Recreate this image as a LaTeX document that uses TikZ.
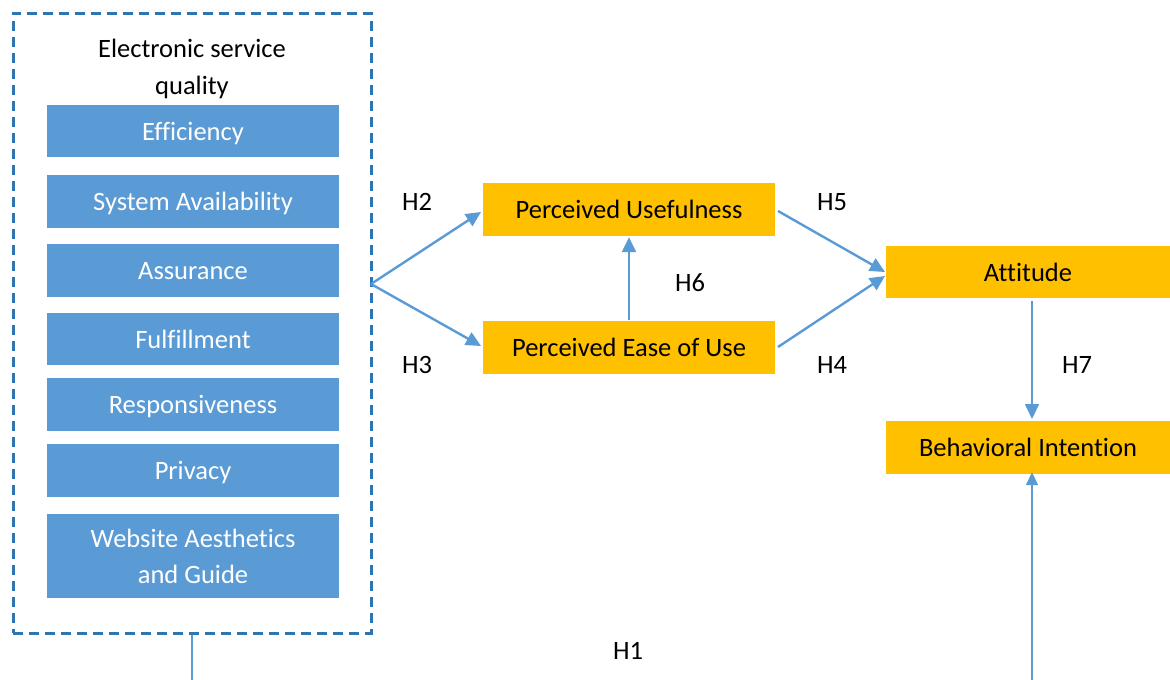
\documentclass[tikz,border=0pt]{standalone}
\usepackage{fontspec}
\setmainfont{Carlito}[Ligatures=NoCommon]
\usetikzlibrary{arrows.meta}
\definecolor{dimblue}{HTML}{5B9BD5}
\definecolor{frameblue}{HTML}{2E75B6}
\definecolor{amber}{HTML}{FFC000}
\tikzset{
  dim/.style={rectangle, fill=dimblue, text=white, minimum width=292pt,
    inner sep=0pt, font=\fontsize{26.5}{36}\selectfont, align=center},
  factor/.style={rectangle, fill=amber, text=black, inner sep=0pt,
    text depth=0pt, font=\fontsize{26.5}{30}\selectfont},
  link/.style={draw=dimblue, line width=2.4pt,
    -{Triangle[length=15pt,width=14pt]}},
  thinlink/.style={draw=dimblue, line width=1.6pt},
  hyp/.style={font=\fontsize{26.5}{30}\selectfont, inner sep=0pt},
  frame/.style={draw=frameblue, line width=3pt,
    dash pattern=on 10pt off 6pt, inner sep=0pt}
}
\begin{document}
\begin{tikzpicture}[x=1pt,y=-1pt]
\useasboundingbox (0,0) rectangle (1170,680);

% dashed frame around the service-quality dimensions
\node[frame, minimum width=358pt, minimum height=620pt] (eq) at (192,323) {};
\node[hyp, align=center, font=\fontsize{26.5}{37}\selectfont] (eqtitle) at (192,69)
  {Electronic service\\quality};

% dimensions
\node[dim, text depth=0pt, minimum height=52pt] (eff)  at (193,131) {Efficiency};
\node[dim, text depth=0pt, minimum height=53pt] (sys)  at (193,201.5) {System Availability};
\node[dim, text depth=0pt, minimum height=53pt] (ass)  at (193,270.5) {Assurance};
\node[dim, text depth=0pt, minimum height=52pt] (ful)  at (193,339) {Fulfillment};
\node[dim, text depth=0pt, minimum height=53pt] (res)  at (193,404.5) {Responsiveness};
\node[dim, text depth=0pt, minimum height=53pt] (pri)  at (193,470.5) {Privacy};
\node[dim, minimum height=84pt] (web)  at (193,556) {Website Aesthetics\\and Guide};

% constructs
\node[factor, minimum width=292pt, minimum height=53pt] (pu)   at (629,209.5) {Perceived Usefulness};
\node[factor, minimum width=292pt, minimum height=53pt] (peou) at (629,347.5) {Perceived Ease of Use};
\node[factor, minimum width=284pt, minimum height=52pt] (att)  at (1028,272) {Attitude};
\node[factor, minimum width=284pt, minimum height=53pt] (bi)   at (1028,447.5) {Behavioral Intention};

% paths
\coordinate (fork) at (371,284);
\draw[link] (fork) -- (481,212);
\draw[link] (fork) -- (481,346);
\draw[link] (peou.north) ++(0,-1) -- ([yshift=-1pt]pu.south);
\draw[link] (778,211) -- (885,272);
\draw[link] (778,347) -- (885,276);
\draw[link, line width=1.8pt] (1032,301) -- (1032,419);

% H1 connector leaving the picture at the bottom
\coordinate (h1a) at (192,680);
\coordinate (h1b) at (1032,680);
\draw[thinlink] (eq.south -| h1a) -- (h1a);
\draw[thinlink, -{Triangle[length=13pt,width=12pt]}] (h1b) -- ([yshift=2pt]bi.south -| h1b);

% hypothesis labels
\node[hyp] (h2) at (417,202) {H2};
\node[hyp] (h3) at (417,365) {H3};
\node[hyp] (h6) at (690,283) {H6};
\node[hyp] (h5) at (832,202) {H5};
\node[hyp] (h4) at (832,365) {H4};
\node[hyp] (h7) at (1077,365) {H7};
\node[hyp] (h1) at (628,651) {H1};
\end{tikzpicture}
\end{document}
